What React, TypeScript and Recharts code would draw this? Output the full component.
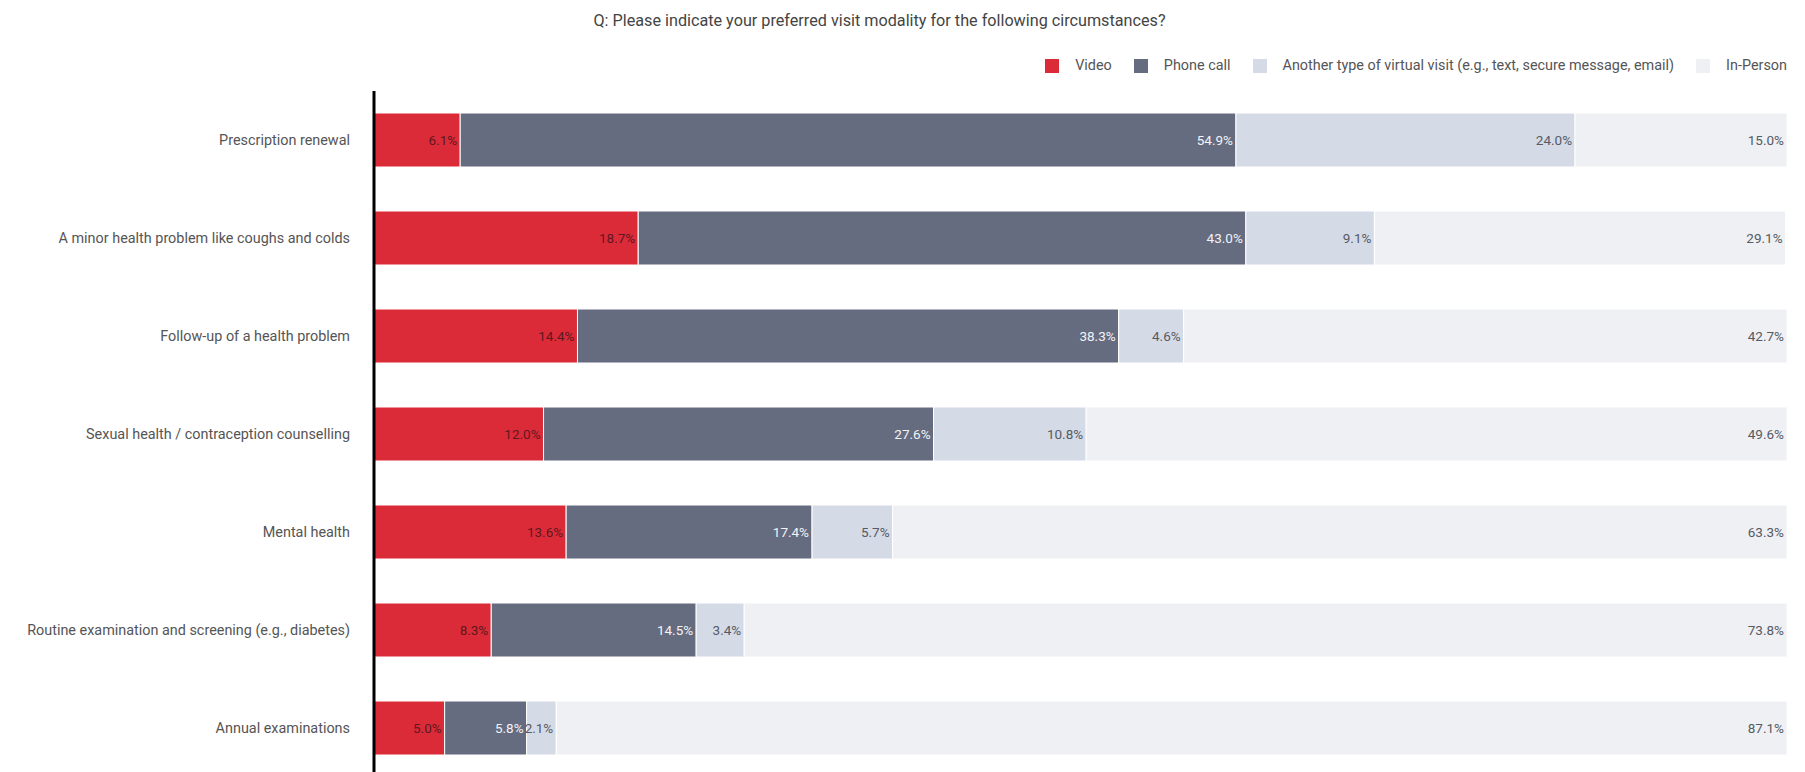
import { BarChart, Bar, XAxis, YAxis, LabelList } from "recharts";

const categories = [
  "Prescription renewal",
  "A minor health problem like coughs and colds",
  "Follow-up of a health problem",
  "Sexual health / contraception counselling",
  "Mental health",
  "Routine examination and screening (e.g., diabetes)",
  "Annual examinations",
];

const video = [6.1, 18.7, 14.4, 12.0, 13.6, 8.3, 5.0];
const phoneCall = [54.9, 43.0, 38.3, 27.6, 17.4, 14.5, 5.8];
const otherVirtual = [24.0, 9.1, 4.6, 10.8, 5.7, 3.4, 2.1];
const inPerson = [15.0, 29.1, 42.7, 49.6, 63.3, 73.8, 87.1];

const SERIES = [
  { key: "video", name: "Video", color: "#DC2B38", labelColor: "#5e1820" },
  { key: "phone", name: "Phone call", color: "#666C80", labelColor: "#f2f3f6" },
  { key: "other", name: "Another type of virtual visit (e.g., text, secure message, email)", color: "#D5DAE7", labelColor: "#555a63" },
  { key: "inperson", name: "In-Person", color: "#EFF0F4", labelColor: "#555a63" },
];

const data = categories.map((name, i) => ({
  name,
  video: video[i],
  phone: phoneCall[i],
  other: otherVirtual[i],
  inperson: inPerson[i],
}));

const FONT = "Roboto, 'Noto Sans', sans-serif";

const fmt = (v: number) => `${v.toFixed(1)}%`;

const App = () => {
  return (
    <div
      style={{
        position: "absolute",
        left: 0,
        top: 0,
        width: 1805,
        height: 772,
        overflow: "hidden",
        background: "#fff",
        fontFamily: FONT,
      }}
    >
      <div
        style={{
          position: "absolute",
          left: 0,
          width: 1805,
          top: 11,
          textAlign: "center",
          fontSize: 16.2,
          color: "#444",
        }}
      >
        <span style={{ position: "relative", left: -23 }}>
          Q: Please indicate your preferred visit modality for the following circumstances?
        </span>
      </div>
      <div
        style={{
          position: "absolute",
          right: 18,
          top: 57,
          display: "flex",
          alignItems: "center",
          gap: 22,
          fontSize: 14.4,
          color: "#555",
        }}
      >
        {SERIES.map((s) => (
          <div key={s.key} style={{ display: "flex", alignItems: "center", gap: 16 }}>
            <span style={{ width: 14, height: 14, background: s.color, display: "inline-block" }} />
            {s.name}
          </div>
        ))}
      </div>
      <div style={{ position: "absolute", left: 0, top: 0 }}>
        <BarChart
          width={1805}
          height={800}
          data={data}
          layout="vertical"
          margin={{ top: 91, right: 18, bottom: 23, left: 0 }}
          barSize={54}
        >
          <XAxis type="number" domain={[0, 100]} hide />
          <YAxis
            type="category"
            dataKey="name"
            width={374}
            axisLine={{ stroke: "#000", strokeWidth: 3 }}
            tickLine={false}
            tickMargin={18}
            tick={{ fontSize: 14.4, fill: "#555", fontFamily: FONT }}
          />
          {SERIES.map((s) => (
            <Bar
              key={s.key}
              dataKey={s.key}
              name={s.name}
              stackId="a"
              fill={s.color}
              stroke="#fff"
              strokeWidth={1}
              isAnimationActive={false}
            >
              <LabelList
                dataKey={s.key}
                position="insideRight"
                offset={3}
                formatter={(v: number) => fmt(v)}
                style={{ fontSize: 13.5, fill: s.labelColor, fontFamily: FONT }}
              />
            </Bar>
          ))}
        </BarChart>
      </div>
    </div>
  );
};

export default App;
